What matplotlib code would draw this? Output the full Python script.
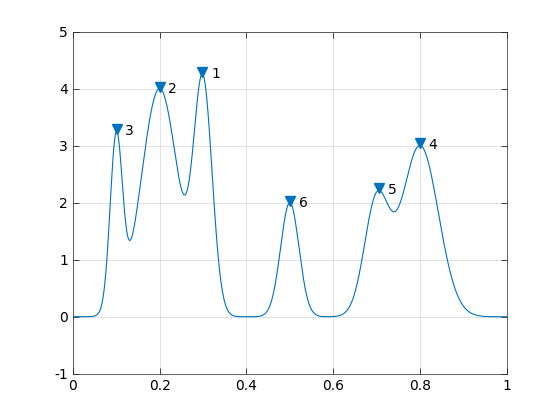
import numpy as np
import matplotlib.pyplot as plt
import matplotlib.transforms as mtransforms

plt.rcParams['axes.unicode_minus'] = False

# Gaussian components (position, height, width)
peak_pos = [0.1, 0.2, 0.3, 0.5, 0.7, 0.8]
peak_hgt = [3, 4, 4, 2, 2, 3]
peak_wdt = [0.02, 0.06, 0.03, 0.03, 0.04, 0.06]

x = np.linspace(0, 1, 1000)
sig = np.zeros_like(x)
for p, h, w in zip(peak_pos, peak_hgt, peak_wdt):
    sig += h * np.exp(-((x - p) / w) ** 2)

# local maxima, sorted by height (descending)
idx = np.where((sig[1:-1] > sig[:-2]) & (sig[1:-1] > sig[2:]))[0] + 1
idx = idx[np.argsort(-sig[idx])]

blue = '#0072BD'
fig = plt.figure(figsize=(5.6, 4.2), dpi=100)
ax = fig.add_axes([0.13, 0.11, 0.775, 0.815])
ax.plot(x, sig, color=blue, lw=0.8)
up = mtransforms.offset_copy(ax.transData, fig=fig, x=0, y=2, units='dots')
ax.plot(x[idx], sig[idx], 'v', color=blue, ms=6.5, markeredgecolor=blue, transform=up)
for k, i in enumerate(idx):
    ax.text(x[i] + 0.02, sig[i], str(k + 1), fontsize=10, va='center', ha='left')

ax.set_xlim(0, 1)
ax.set_ylim(-1, 5)
ax.set_xticks([0, 0.2, 0.4, 0.6, 0.8, 1])
ax.set_xticklabels(['0', '0.2', '0.4', '0.6', '0.8', '1'])
ax.set_yticks(range(-1, 6))
ax.grid(True, color='#dcdcdc', lw=0.6)
ax.tick_params(direction='in', top=True, right=True, labelsize=10, length=4, width=0.5)
for s in ax.spines.values():
    s.set_linewidth(0.5)
    s.set_color('#262626')

fig.savefig('out.png', dpi=100)
